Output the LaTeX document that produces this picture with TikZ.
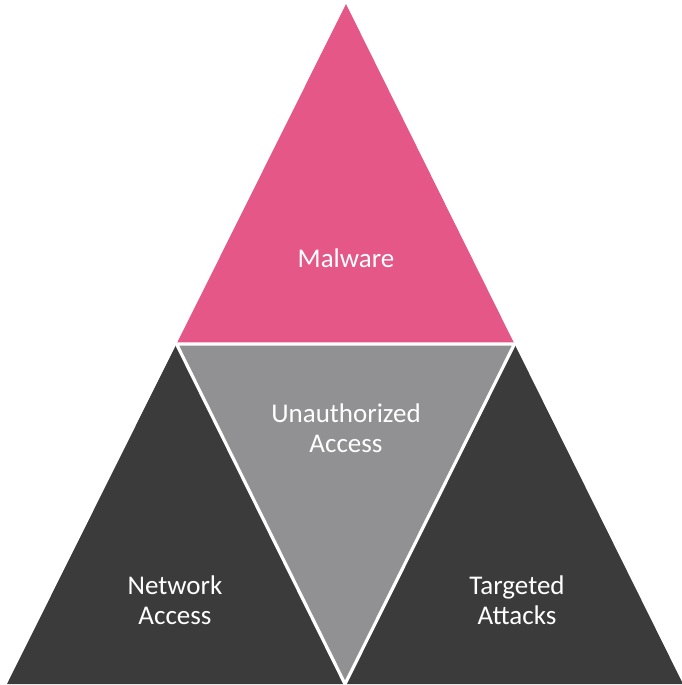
\documentclass[tikz,border=0pt]{standalone}
\usepackage{fontspec}
\setmainfont{Carlito}
\definecolor{pinkc}{HTML}{E45787}
\definecolor{grayc}{HTML}{919193}
\definecolor{darkc}{HTML}{3B3B3B}
\begin{document}
\begin{tikzpicture}[x=1pt,y=-1pt,
  lbl/.style={text=white,font=\fontsize{27}{30}\selectfont,align=center,inner sep=0pt},
  gap/.style={draw=white,line width=3.2pt,line cap=round,line join=round}]
\useasboundingbox (0,0) rectangle (681,685);
\coordinate (T) at (346,4);
\coordinate (BL) at (7,684);
\coordinate (BR) at (683,684);
\coordinate (ML) at (176.5,344);
\coordinate (MR) at (514.5,344);
\coordinate (MB) at (345,684);
\fill[pinkc] (T) -- (MR) -- (ML) -- cycle;
\fill[darkc] (ML) -- (MB) -- (BL) -- cycle;
\fill[darkc] (MR) -- (BR) -- (MB) -- cycle;
\fill[grayc] (ML) -- (MR) -- (MB) -- cycle;
\draw[gap] (ML) -- (MR) -- (MB) -- cycle;
\node[lbl] (mal) at (346,258) {Malware};
\node[lbl] (una) at (346,428) {Unauthorized\\Access};
\node[lbl] (net) at (175,600) {Network\\Access};
\node[lbl] (tar) at (517,600) {Targeted\\Attacks};
\end{tikzpicture}
\end{document}
